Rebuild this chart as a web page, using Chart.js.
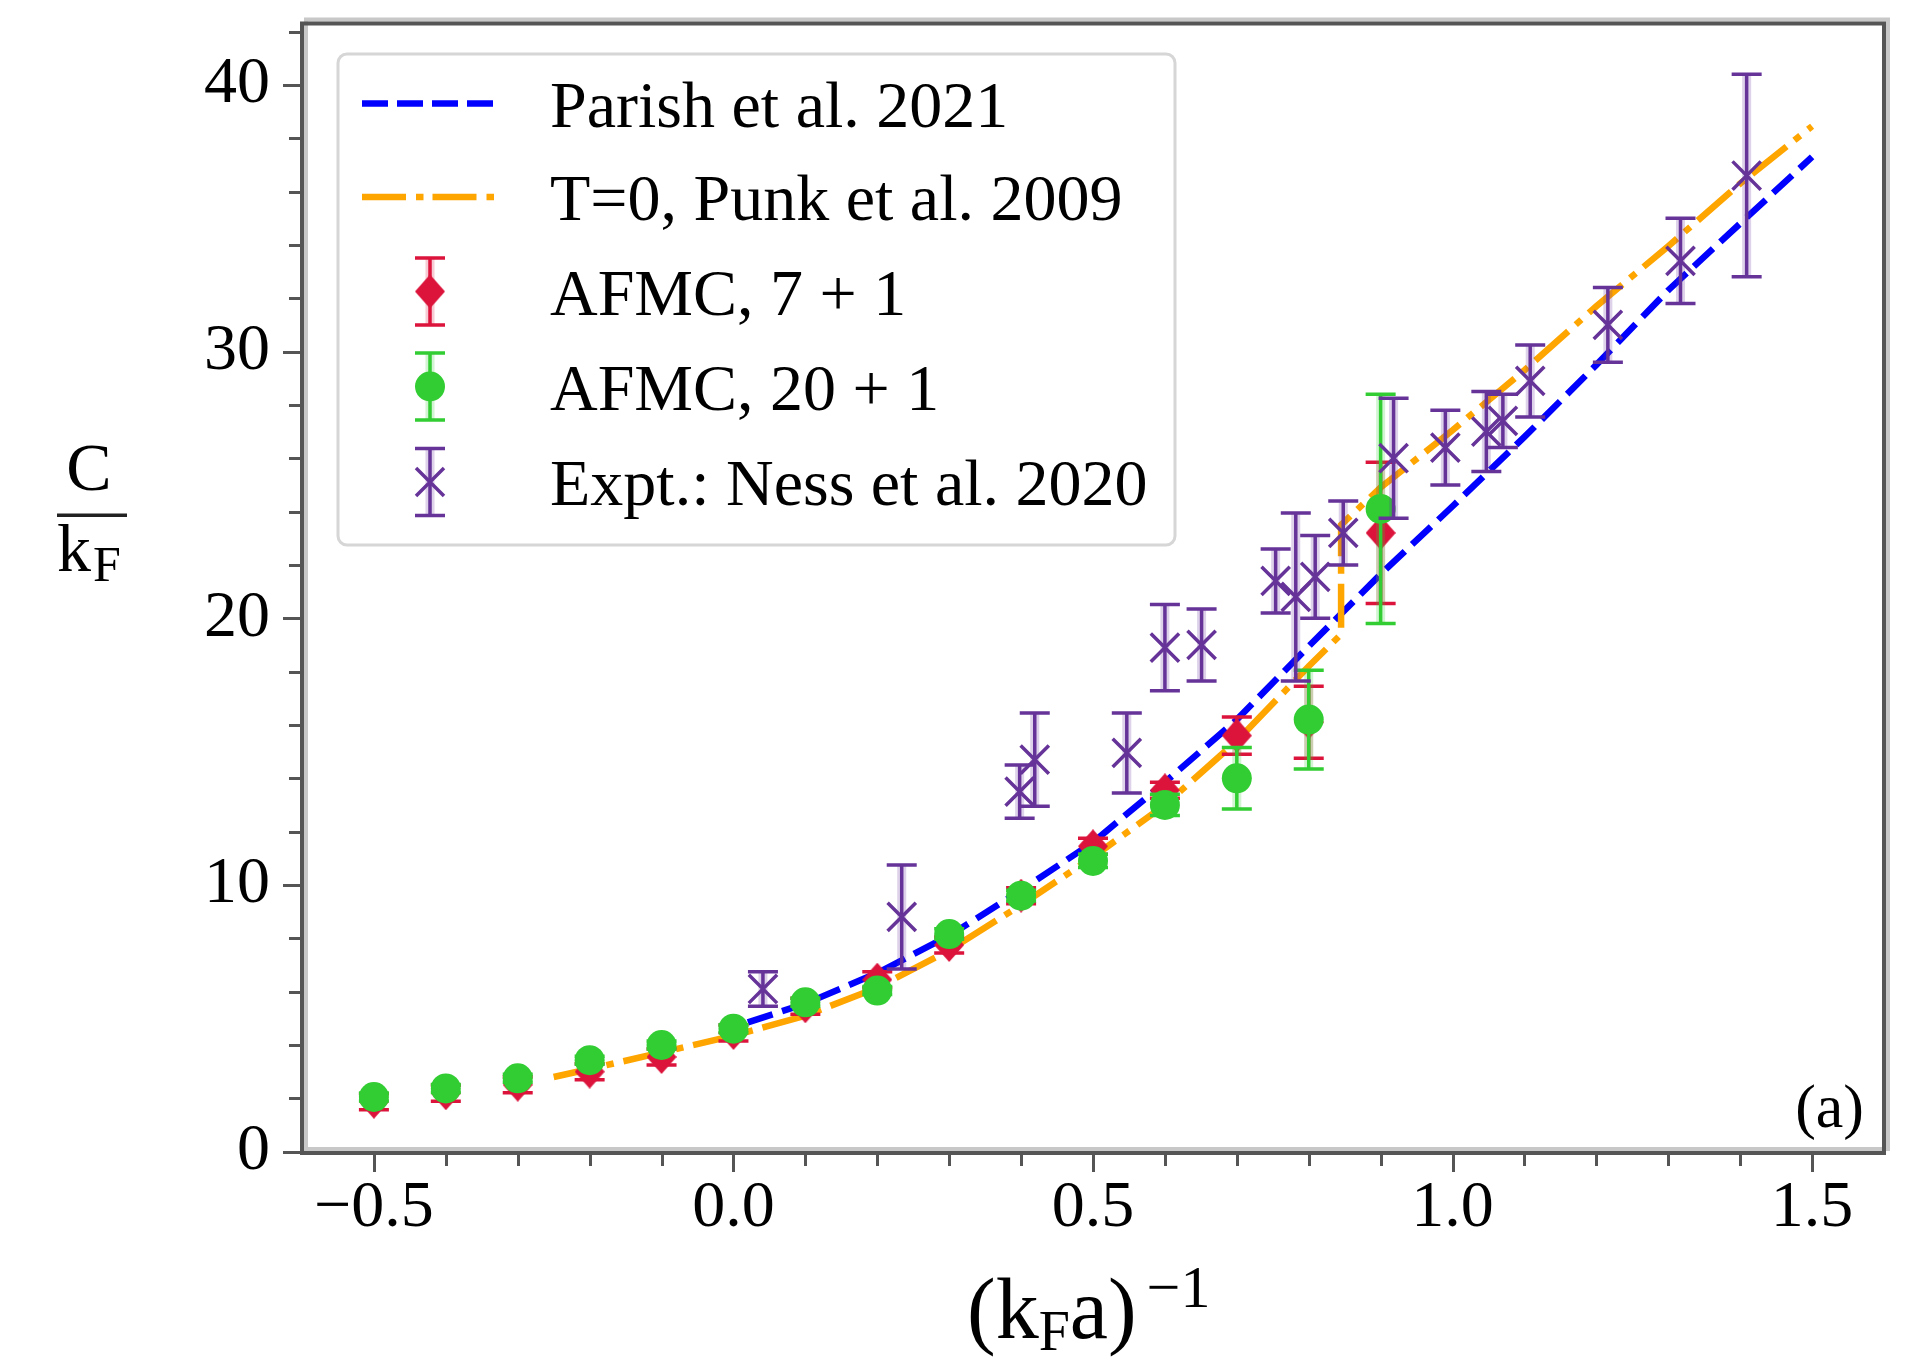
<!DOCTYPE html>
<html>
<head>
<meta charset="utf-8">
<title>C/kF versus (kFa)^-1</title>
<script src="https://cdn.jsdelivr.net/npm/chart.js@4.4.1/dist/chart.umd.min.js"></script>
<style>
  html, body { margin: 0; padding: 0; background: #fff; }
  #chart { display: block; }
</style>
</head>
<body>
<canvas id="chart" width="1915" height="1357"></canvas>
<script>
// AFMC points (7+1 and 20+1 use the same x grid)
const afmcX = [-0.5, -0.4, -0.3, -0.2, -0.1, 0.0, 0.1, 0.2, 0.3, 0.4, 0.5, 0.6, 0.7, 0.8, 0.9];
const afmc7 = [1.87, 2.19, 2.51, 3.0, 3.55, 4.45, 5.45, 6.45, 7.75, 9.6, 11.45, 13.55, 15.6, 16.1, 23.2];
const afmc7Err = [0.3, 0.3, 0.3, 0.3, 0.3, 0.3, 0.3, 0.3, 0.3, 0.3, 0.3, 0.3, 0.7, 1.35, 2.65];
const afmc20 = [2.05, 2.37, 2.75, 3.43, 4.0, 4.61, 5.6, 6.04, 8.16, 9.6, 10.9, 13.0, 14.0, 16.2, 24.1];
const afmc20Err = [0.15, 0.15, 0.15, 0.15, 0.15, 0.15, 0.15, 0.15, 0.2, 0.2, 0.25, 0.4, 1.15, 1.85, 4.3];

// Expt.: Ness et al. 2020
const nessX = [0.041, 0.234, 0.398, 0.419, 0.547, 0.600, 0.651, 0.754, 0.782, 0.809, 0.848, 0.918, 0.990, 1.047, 1.070, 1.108, 1.216, 1.317, 1.409];
const nessY = [6.1, 8.8, 13.5, 14.7, 14.95, 18.9, 19.0, 21.4, 20.8, 21.55, 23.2, 26.0, 26.4, 27.0, 27.4, 28.9, 31.0, 33.4, 36.6];
const nessErr = [0.65, 1.95, 1.0, 1.75, 1.5, 1.62, 1.35, 1.2, 3.15, 1.55, 1.2, 2.25, 1.4, 1.5, 1.0, 1.35, 1.4, 1.6, 3.8];

// Parish et al. 2021
const parishX = [0.02, 0.1, 0.2, 0.3, 0.4, 0.5, 0.6, 0.7, 0.8, 0.9, 1.0, 1.1, 1.2, 1.3, 1.4, 1.5];
const parishY = [4.85, 5.55, 6.7, 8.1, 9.8, 11.6, 13.85, 16.2, 18.95, 21.65, 24.2, 26.8, 29.5, 32.3, 34.8, 37.3];

// T=0, Punk et al. 2009 (jumps near 0.845)
const punkX = [-0.25, -0.2, -0.1, 0.0, 0.1, 0.2, 0.3, 0.4, 0.5, 0.6, 0.7, 0.8, 0.845, 0.845, 0.9, 1.0, 1.1, 1.2, 1.3, 1.4, 1.5];
const punkY = [2.8, 3.1, 3.72, 4.35, 5.1, 6.15, 7.55, 9.25, 11.05, 13.0, 15.4, 18.2, 19.4, 23.5, 24.9, 27.05, 29.3, 31.7, 33.95, 36.3, 38.45];

// ticks
const xMajorTicks = [-0.5, 0.0, 0.5, 1.0, 1.5];
const yMajorTicks = [0, 10, 20, 30, 40];
const xMinorStep = 0.1;
const yMinorStep = 2;

const colors = {
  blue: '#0000ff', orange: '#ffa500', red: '#dc143c',
  green: '#32cd32', purple: '#663399', axis: '#555555', halo: '#c8c8c8'
};
const serif = '"Liberation Serif", "Times New Roman", serif';

function pts(xs, ys) {
  return xs.map((x, i) => ({ x: x, y: ys[i] }));
}

// red diamond marker as an image
function diamondImage(w, h, color) {
  const c = document.createElement('canvas');
  c.width = w; c.height = h;
  const g = c.getContext('2d');
  g.fillStyle = color;
  g.beginPath();
  g.moveTo(w / 2, 0); g.lineTo(w, h / 2); g.lineTo(w / 2, h); g.lineTo(0, h / 2);
  g.closePath();
  g.fill();
  return c;
}
const redDiamond = diamondImage(30, 34, colors.red);

function errBar(ctx, x, yTop, yBot, color) {
  const cap = 15;
  ctx.lineCap = 'butt';
  ctx.strokeStyle = color;
  ctx.globalAlpha = 0.22;
  ctx.lineWidth = 9;
  ctx.beginPath();
  ctx.moveTo(x, yTop); ctx.lineTo(x, yBot);
  ctx.stroke();
  ctx.globalAlpha = 1;
  ctx.lineWidth = 3.5;
  ctx.beginPath();
  ctx.moveTo(x, yTop); ctx.lineTo(x, yBot);
  ctx.moveTo(x - cap, yTop); ctx.lineTo(x + cap, yTop);
  ctx.moveTo(x - cap, yBot); ctx.lineTo(x + cap, yBot);
  ctx.stroke();
}

// error bars go right under each dataset's markers
const errorBarPlugin = {
  id: 'errorBars',
  beforeDatasetDraw(chart, args) {
    const ds = chart.data.datasets[args.index];
    if (!ds.errors) return;
    const ctx = chart.ctx;
    const y = chart.scales.y;
    ctx.save();
    args.meta.data.forEach((el, i) => {
      const v = ds.data[i].y;
      const e = ds.errors[i];
      errBar(ctx, el.x, y.getPixelForValue(v + e), y.getPixelForValue(v - e), ds.barColor);
    });
    ctx.restore();
  }
};

function legendMarker(ctx, kind, x, y) {
  if (kind === 'red') {
    errBar(ctx, x, y - 33.5, y + 33.5, colors.red);
    ctx.drawImage(redDiamond, x - 15, y - 17);
  } else if (kind === 'green') {
    errBar(ctx, x, y - 33.5, y + 33.5, colors.green);
    ctx.fillStyle = colors.green;
    ctx.beginPath(); ctx.arc(x, y, 15, 0, Math.PI * 2); ctx.fill();
  } else {
    errBar(ctx, x, y - 33.5, y + 33.5, colors.purple);
    ctx.strokeStyle = colors.purple; ctx.lineWidth = 3.5;
    ctx.beginPath();
    ctx.moveTo(x - 14, y - 14); ctx.lineTo(x + 14, y + 14);
    ctx.moveTo(x - 14, y + 14); ctx.lineTo(x + 14, y - 14);
    ctx.stroke();
  }
}

const decorPlugin = {
  id: 'decor',
  afterDraw(chart) {
    const ctx = chart.ctx;
    const a = chart.chartArea;
    const xs = chart.scales.x, ys = chart.scales.y;
    ctx.save();

    // frame
    ctx.lineWidth = 4;
    ctx.strokeStyle = colors.halo;
    ctx.strokeRect(a.left + 4, a.top - 4, a.right - a.left, a.bottom - a.top);
    ctx.strokeStyle = colors.axis;
    ctx.strokeRect(a.left, a.top, a.right - a.left, a.bottom - a.top);

    // tick marks, major and minor
    ctx.lineWidth = 3;
    ctx.strokeStyle = colors.axis;
    ctx.beginPath();
    for (let v = -0.5; v <= 1.5001; v += xMinorStep) {
      const r = Math.round(v * 10) / 10;
      const px = Math.round(xs.getPixelForValue(r)) + 0.5;
      const len = xMajorTicks.includes(r) ? 17 : 11;
      ctx.moveTo(px, a.bottom + 2); ctx.lineTo(px, a.bottom + 2 + len);
    }
    for (let v = 0; v <= 42; v += yMinorStep) {
      const py = Math.round(ys.getPixelForValue(v)) + 0.5;
      const len = yMajorTicks.includes(v) ? 17 : 11;
      ctx.moveTo(a.left - 2, py); ctx.lineTo(a.left - 2 - len, py);
    }
    ctx.stroke();

    // legend box
    ctx.fillStyle = 'rgba(255,255,255,0.85)';
    ctx.strokeStyle = '#d6d6d6';
    ctx.lineWidth = 3;
    ctx.beginPath();
    ctx.roundRect(338, 54, 837, 491, 9);
    ctx.fill(); ctx.stroke();

    const rows = [103.5, 197, 291.5, 386.5, 482];
    const labels = ['Parish et al. 2021', 'T=0, Punk et al. 2009', 'AFMC, 7 + 1', 'AFMC, 20 + 1', 'Expt.: Ness et al. 2020'];
    ctx.lineCap = 'butt';
    ctx.lineWidth = 6.5;
    ctx.strokeStyle = colors.blue;
    ctx.setLineDash([26, 9]);
    ctx.beginPath(); ctx.moveTo(362, rows[0]); ctx.lineTo(494, rows[0]); ctx.stroke();
    ctx.strokeStyle = colors.orange;
    ctx.setLineDash([44, 10, 7.5, 9]);
    ctx.beginPath(); ctx.moveTo(362, rows[1]); ctx.lineTo(494, rows[1]); ctx.stroke();
    ctx.setLineDash([]);
    legendMarker(ctx, 'red', 430, rows[2]);
    legendMarker(ctx, 'green', 430, rows[3]);
    legendMarker(ctx, 'purple', 430, rows[4]);

    ctx.fillStyle = '#000';
    ctx.font = '66px ' + serif;
    ctx.textAlign = 'left';
    ctx.textBaseline = 'alphabetic';
    labels.forEach((t, i) => ctx.fillText(t, 550, rows[i] + 23));

    // panel tag
    ctx.font = '62px ' + serif;
    ctx.textAlign = 'right';
    ctx.fillText('(a)', 1864, 1127);

    // y title: C over kF
    ctx.textAlign = 'center';
    ctx.font = '68px ' + serif;
    ctx.fillText('C', 89, 490);
    ctx.fillStyle = '#222';
    ctx.fillRect(57, 513.5, 70, 3.5);
    ctx.fillStyle = '#000';
    ctx.textAlign = 'left';
    ctx.fillText('k', 57, 571);
    ctx.font = '50px ' + serif;
    ctx.fillText('F', 93, 581);

    // x title: (kFa)^-1
    let cx = 967;
    const base = 1338;
    ctx.font = '86px ' + serif;
    ctx.fillText('(k', cx, base);
    cx += ctx.measureText('(k').width;
    ctx.font = '56px ' + serif;
    ctx.fillText('F', cx, base + 12);
    cx += ctx.measureText('F').width;
    ctx.font = '86px ' + serif;
    ctx.fillText('a)', cx, base);
    cx += ctx.measureText('a)').width;
    ctx.font = '60px ' + serif;
    ctx.fillText('\u22121', cx + 10, 1307);

    ctx.restore();
  }
};

new Chart(document.getElementById('chart'), {
  type: 'scatter',
  data: {
    datasets: [
      {
        label: 'Expt.: Ness et al. 2020',
        data: pts(nessX, nessY),
        errors: nessErr,
        barColor: colors.purple,
        pointStyle: 'crossRot',
        pointRadius: 20,
        borderWidth: 3.5,
        borderColor: colors.purple,
        backgroundColor: colors.purple,
        order: 1
      },
      {
        label: 'AFMC, 20 + 1',
        data: pts(afmcX, afmc20),
        errors: afmc20Err,
        barColor: colors.green,
        pointStyle: 'circle',
        pointRadius: 15,
        borderWidth: 0,
        backgroundColor: colors.green,
        order: 2
      },
      {
        label: 'AFMC, 7 + 1',
        data: pts(afmcX, afmc7),
        errors: afmc7Err,
        barColor: colors.red,
        pointStyle: redDiamond,
        pointRadius: 16,
        borderWidth: 0,
        backgroundColor: colors.red,
        order: 3
      },
      {
        label: 'T=0, Punk et al. 2009',
        data: pts(punkX, punkY),
        showLine: true,
        pointRadius: 0,
        borderColor: colors.orange,
        borderWidth: 6.5,
        borderDash: [44, 10, 7.5, 10],
        borderCapStyle: 'butt',
        tension: 0,
        fill: false,
        order: 4
      },
      {
        label: 'Parish et al. 2021',
        data: pts(parishX, parishY),
        showLine: true,
        pointRadius: 0,
        borderColor: colors.blue,
        borderWidth: 6.5,
        borderDash: [26, 10],
        borderCapStyle: 'butt',
        tension: 0,
        fill: false,
        order: 5
      }
    ]
  },
  options: {
    responsive: false,
    devicePixelRatio: 1,
    animation: false,
    events: [],
    layout: { padding: { left: 0, top: 21, right: 31, bottom: 0 } },
    plugins: { legend: { display: false }, tooltip: { enabled: false } },
    scales: {
      x: {
        type: 'linear',
        position: 'bottom',
        min: -0.6,
        max: 1.6,
        grid: { display: false, drawTicks: true, tickLength: 16 },
        border: { display: false },
        afterBuildTicks: s => { s.ticks = xMajorTicks.map(v => ({ value: v })); },
        afterFit: s => { s.height = 204; s.paddingLeft = 0; s.paddingRight = 0; },
        ticks: {
          autoSkip: false,
          maxRotation: 0,
          padding: 0,
          color: '#000',
          font: { family: serif, size: 66, lineHeight: 1.2 },
          callback: v => (v < 0 ? '\u2212' : '') + Math.abs(v).toFixed(1)
        }
      },
      y: {
        type: 'linear',
        position: 'left',
        min: -0.05,
        max: 42.3,
        grid: { display: false, drawTicks: true, tickLength: 16 },
        border: { display: false },
        afterBuildTicks: s => { s.ticks = yMajorTicks.map(v => ({ value: v })); },
        afterFit: s => { s.width = 302; s.paddingTop = 0; s.paddingBottom = 0; },
        ticks: {
          autoSkip: false,
          padding: 16,
          color: '#000',
          font: { family: serif, size: 66, lineHeight: 1.2 },
          callback: v => String(v)
        }
      }
    }
  },
  plugins: [errorBarPlugin, decorPlugin]
});
</script>
</body>
</html>
